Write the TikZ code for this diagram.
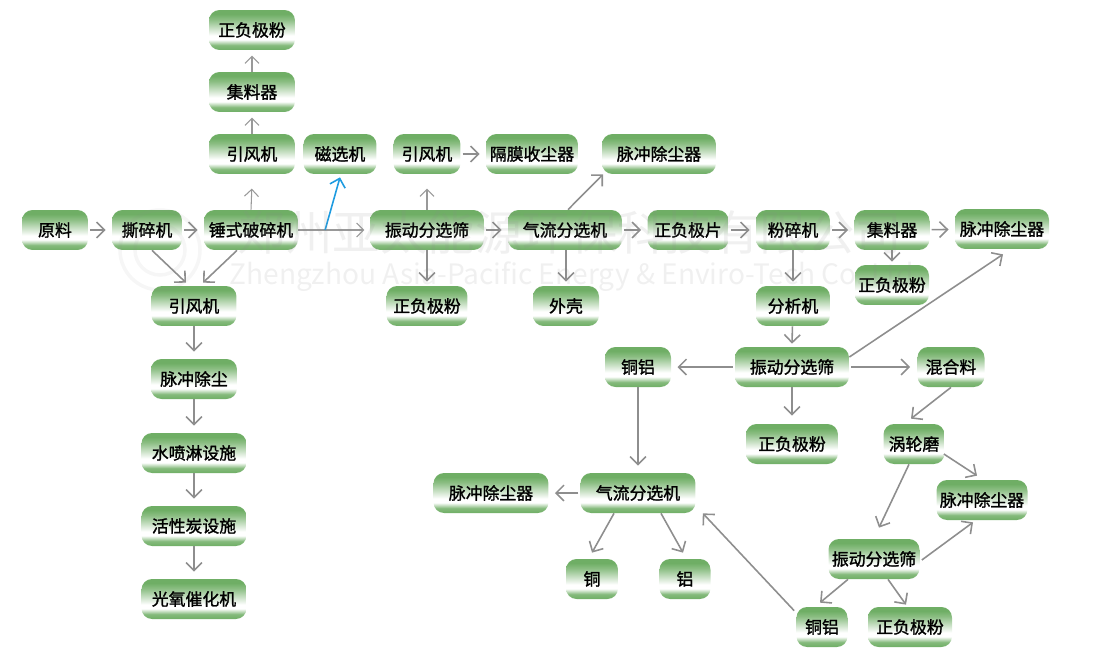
\documentclass[tikz,border=0pt]{standalone}
\usepackage{fontspec}
\setmainfont{Noto Sans CJK SC}[FakeBold=1.4]
\newfontfamily\markfont{Noto Sans CJK SC}
\usetikzlibrary{arrows.meta,calc}
\definecolor{boxgreen}{HTML}{6FAE65}
\definecolor{linegray}{HTML}{8E8E8E}
\definecolor{lineblue}{HTML}{1E9BE0}
\pgfdeclareverticalshading{boxfill}{100bp}{color(0bp)=(boxgreen); color(25bp)=(boxgreen); color(31bp)=(boxgreen!85); color(38bp)=(white); color(43bp)=(white); color(63bp)=(boxgreen!80); color(70bp)=(boxgreen); color(75bp)=(boxgreen); color(100bp)=(boxgreen)}
\tikzset{
	box/.style={shading=boxfill,rounded corners=6pt,minimum height=0.8cm,inner sep=0pt,font=\fontsize{9.6pt}{12pt}\selectfont,text=black},
	flow/.style={draw=linegray,line width=0.9pt,-{Straight Barb[length=4.5pt,width=9pt,line width=0.9pt]}},
	sflow/.style={flow,shorten >=3.5pt,shorten <=1pt},
	thinflow/.style={draw=linegray!90,line width=0.6pt,shorten >=3pt,-{Straight Barb[length=4pt,width=8pt,line width=0.6pt]}},
	mark text/.style={text=black!45,opacity=0.13,inner sep=0pt},
	mark ring/.style={circle,draw=black!45,opacity=0.08,line width=2pt,inner sep=0pt}
}
\begin{document}
\begin{tikzpicture}[x=0.02cm,y=-0.02cm]
		\useasboundingbox (0,0) rectangle (1099,666);
		% top row and stack
		\node[box,minimum width=1.72cm] (powdera) at (252,30) {正负极粉};
		\node[box,minimum width=1.72cm] (collectora) at (252,92) {集料器};
		\node[box,minimum width=1.72cm] (fana) at (252,154) {引风机};
		\node[box,minimum width=1.46cm] (magnet) at (340,154) {磁选机};
		\node[box,minimum width=1.34cm] (fanb) at (427,154) {引风机};
		\node[box,minimum width=1.84cm] (membrane) at (532,154) {隔膜收尘器};
		\node[box,minimum width=2.28cm] (pulsea) at (659,154) {脉冲除尘器};
		% main line
		\node[box,minimum width=1.32cm] (raw) at (55,230) {原料};
		\node[box,minimum width=1.40cm] (shredder) at (147,230) {撕碎机};
		\node[box,minimum width=1.88cm] (hammer) at (251,230) {锤式破碎机};
		\node[box,minimum width=2.28cm] (screena) at (427,230) {振动分选筛};
		\node[box,minimum width=2.28cm] (airsepa) at (565,230) {气流分选机};
		\node[box,minimum width=1.62cm] (sheet) at (688,230) {正负极片};
		\node[box,minimum width=1.48cm] (crusher) at (793,230) {粉碎机};
		\node[box,minimum width=1.50cm] (collectorb) at (892,230) {集料器};
		\node[box,minimum width=1.88cm] (pulseb) at (1002,229) {脉冲除尘器};
		\node[box,minimum width=1.70cm] (fanc) at (194,306) {引风机};
		\node[box,minimum width=1.62cm] (powderb) at (427,306) {正负极粉};
		\node[box,minimum width=1.32cm] (shell) at (566,306) {外壳};
		\node[box,minimum width=1.48cm] (analyzer) at (793,306) {分析机};
		\node[box,minimum width=1.48cm] (powderc) at (892,285) {正负极粉};
		% exhaust line
		\node[box,minimum width=1.72cm] (pulsec) at (194,379) {脉冲除尘};
		\node[box,minimum width=2.10cm] (spray) at (194,453) {水喷淋设施};
		\node[box,minimum width=2.10cm] (carbon) at (194,526) {活性炭设施};
		\node[box,minimum width=2.10cm] (catalyst) at (194,599) {光氧催化机};
		% lower right
		\node[box,minimum width=1.32cm] (cualb) at (638,367) {铜铝};
		\node[box,minimum width=2.28cm] (screenb) at (792,367) {振动分选筛};
		\node[box,minimum width=1.34cm] (mix) at (951,367) {混合料};
		\node[box,minimum width=1.84cm] (powderd) at (792,444) {正负极粉};
		\node[box,minimum width=1.22cm] (turbo) at (914,444) {涡轮磨};
		\node[box,minimum width=1.82cm] (pulsed) at (982,500) {脉冲除尘器};
		\node[box,minimum width=2.30cm] (pulsee) at (491,493) {脉冲除尘器};
		\node[box,minimum width=2.30cm] (airsepb) at (638,493) {气流分选机};
		\node[box,minimum width=1.04cm] (cu) at (592,579) {铜};
		\node[box,minimum width=1.02cm] (al) at (685,579) {铝};
		\node[box,minimum width=1.82cm] (screenc) at (874,559) {振动分选筛};
		\node[box,minimum width=1.02cm] (cualc) at (822,627) {铜铝};
		\node[box,minimum width=1.68cm] (powdere) at (910,627) {正负极粉};
		% arrows
		\draw[thinflow] (collectora) -- (powdera);
		\draw[thinflow] (fana) -- (collectora);
		\draw[thinflow] (hammer.north) -- ($(fana.south)+(0,9)$);
		\draw[sflow] (raw) -- (shredder);
		\draw[sflow] (shredder) -- (hammer);
		\draw[thinflow] (hammer) -- (screena);
		\coordinate (tap) at ($(hammer.east)!0.375!(screena.west)$);
		\draw[thinflow] (screena.north) -- ($(fanb.south)+(0,9)$);
		\draw[sflow] (fanb) -- (membrane);
		\draw[sflow] (screena) -- (airsepa);
		\draw[flow] ($(airsepa.north)+(3,0)$) -- ($(pulsea.south)+(-56,0)$);
		\draw[sflow] (airsepa) -- (sheet);
		\draw[sflow] (sheet) -- (crusher);
		\draw[sflow] (crusher) -- (collectorb);
		\draw[sflow] (collectorb) -- (pulseb);
		\draw[flow] (collectorb) -- ($(powderc.north)+(0,-3)$);
		\draw[flow] (crusher) -- ($(analyzer.north)+(0,-4)$);
		\draw[flow] (airsepa.south -| shell) -- ($(shell.north)+(0,-4)$);
		\draw[flow] (screena) -- ($(powderb.north)+(0,-4)$);
		\draw[flow] ($(shredder.south)+(5,0)$) -- ($(fanc.north)+(-8,-3)$);
		\draw[flow] ($(hammer.south)+(-14,0)$) -- ($(fanc.north)+(9,-3)$);
		\draw[flow] (fanc) -- ($(pulsec.north)+(0,-7)$);
		\draw[flow] (pulsec) -- ($(spray.north)+(0,-7)$);
		\draw[flow] (spray) -- ($(carbon.north)+(0,-7)$);
		\draw[flow] (carbon) -- ($(catalyst.north)+(0,-7)$);
		\draw[flow] (analyzer) -- ($(screenb.north)+(0,-3)$);
		\draw[sflow] (screenb) -- (cualb);
		\draw[flow] ($(screenb.east)+(2,0)$) -- ($(mix.west)+(-7,0)$);
		\draw[flow] (screenb) -- ($(powderd.north)+(0,-8)$);
		\draw[flow] ($(screenb.east)+(0,-10)$) -- ($(pulseb.south)+(1,5)$);
		\draw[flow] (cualb) -- ($(airsepb.north)+(0,-7)$);
		\draw[sflow] (airsepb) -- (pulsee);
		\draw[flow] ($(airsepb.south)+(-24,0)$) -- ($(cu.north)+(0,-6)$);
		\draw[flow] ($(airsepb.south)+(23,0)$) -- ($(al.north)+(-2,-6)$);
		\draw[flow] (mix.south) -- ($(turbo.north)+(-3,-5)$);
		\draw[flow] ($(turbo.east)+(-1,10)$) -- ($(pulsed.north)+(-5,-4)$);
		\draw[flow] ($(turbo.south)+(-5,0)$) -- ($(screenc.north)+(5,-11)$);
		\draw[flow] ($(screenc.east)+(2,1)$) -- ($(pulsed.south)+(-9,2)$);
		\draw[flow] ($(screenc.south)+(-26,0)$) -- ($(cualc.north)+(-2,-4)$);
		\draw[flow] ($(screenc.south)+(14,0)$) -- ($(powdere.north)+(-4,-2)$);
		\draw[flow] ($(cualc.north west)+(-2,4)$) -- ($(airsepb.south east)+(7,0)$);
		\draw[draw=lineblue,line width=0.9pt,-{Straight Barb[length=4.5pt,width=9pt,line width=0.9pt]}] (tap) -- ($(magnet.south)+(0,3)$);
		% watermark
		\node[mark ring,minimum size=1.6cm] (markringa) at (160,250) {};
		\node[mark ring,minimum size=1.0cm] (markringb) at (160,250) {};
		\node[mark text,font=\markfont\fontsize{27pt}{30pt}\selectfont] (markcn) at (570,232) {郑州亚太能源环保科技有限公司};
		\node[mark text,font=\markfont\fontsize{16pt}{18pt}\selectfont] (markeng) at (572,277) {Zhengzhou Asia-Pacific Energy \& Enviro-Tech Co.,Ltd};
\end{tikzpicture}
\end{document}
